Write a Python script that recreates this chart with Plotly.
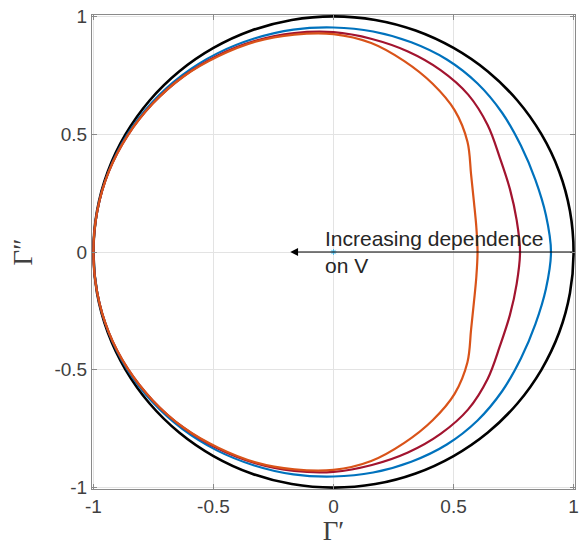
import plotly.graph_objects as go

# Unit circle, upper half (points read every 10 degrees)
circle_x = [1.0, 0.985, 0.940, 0.866, 0.766, 0.643, 0.5, 0.342, 0.174, 0.0,
            -0.174, -0.342, -0.5, -0.643, -0.766, -0.866, -0.940, -0.985, -1.0]
circle_y = [0.0, 0.174, 0.342, 0.5, 0.643, 0.766, 0.866, 0.940, 0.985, 1.0,
            0.985, 0.940, 0.866, 0.766, 0.643, 0.5, 0.342, 0.174, 0.0]

# Blue curve, upper half
blue_x = [0.906, 0.885, 0.841, 0.781, 0.703, 0.600, 0.472, 0.324, 0.165, 0.0,
          -0.167, -0.330, -0.486, -0.630, -0.756, -0.860, -0.937, -0.984, -1.0]
blue_y = [0.0, 0.156, 0.306, 0.451, 0.590, 0.715, 0.817, 0.890, 0.936, 0.953,
          0.944, 0.906, 0.842, 0.751, 0.635, 0.497, 0.341, 0.174, 0.0]

# Crimson curve, upper half
red_x = [0.777, 0.763, 0.735, 0.693, 0.642, 0.561, 0.446, 0.310, 0.160, 0.0,
         -0.164, -0.326, -0.482, -0.626, -0.752, -0.857, -0.936, -0.984, -1.0]
red_y = [0.0, 0.135, 0.267, 0.400, 0.539, 0.668, 0.772, 0.851, 0.904, 0.933,
         0.929, 0.896, 0.834, 0.745, 0.631, 0.495, 0.341, 0.174, 0.0]

# Orange curve, upper half
orange_x = [0.600, 0.595, 0.585, 0.573, 0.558, 0.505, 0.413, 0.295, 0.157, 0.0,
            -0.163, -0.325, -0.480, -0.625, -0.752, -0.857, -0.936, -0.984, -1.0]
orange_y = [0.0, 0.105, 0.213, 0.331, 0.468, 0.601, 0.714, 0.810, 0.887, 0.925,
            0.923, 0.893, 0.831, 0.745, 0.631, 0.495, 0.341, 0.174, 0.0]

tick_vals = [-1, -0.5, 0, 0.5, 1]
tick_text = ["-1", "-0.5", "0", "0.5", "1"]


def closed(xs, ys):
    # upper half followed by mirrored lower half
    fx = list(xs) + list(reversed(xs))[1:]
    fy = list(ys) + [-v for v in reversed(ys)][1:]
    return fx, fy


fig = go.Figure()
series = [
    (circle_x, circle_y, "black", 2.6),
    (blue_x, blue_y, "#0072BD", 2.2),
    (red_x, red_y, "#A2142F", 2.2),
    (orange_x, orange_y, "#D95319", 2.2),
]
for xs, ys, col, w in series:
    fx, fy = closed(xs, ys)
    fig.add_trace(go.Scatter(x=fx, y=fy, mode="lines",
                             line=dict(color=col, width=w, shape="spline", smoothing=1.0),
                             showlegend=False, hoverinfo="skip"))

fig.add_trace(go.Scatter(x=[0], y=[0], mode="markers",
                         marker=dict(color="#4DBEEE", size=5, symbol="asterisk-open",
                                     line=dict(color="#4DBEEE", width=1)),
                         showlegend=False))

fig.add_annotation(x=-0.18, y=0, ax=1.0, ay=0, xref="x", yref="y", axref="x", ayref="y",
                   showarrow=True, arrowhead=2, arrowsize=1.3, arrowwidth=1.2,
                   arrowcolor="black", text="")
fig.add_annotation(x=-0.045, y=0.0, xref="x", yref="y", showarrow=False,
                   text="Increasing dependence<br>on V", xanchor="left", yanchor="middle",
                   align="left", font=dict(family="Liberation Sans, Arial", size=21, color="#262626"))

axis_common = dict(range=[-1.006, 1.006], tickvals=tick_vals, ticktext=tick_text, automargin=False,
                   ticklabeloverflow="allow",
                   showgrid=True, gridcolor="#e3e3e3", gridwidth=1,
                   zeroline=False, showline=True, linecolor="#8a8a8a", linewidth=1,
                   mirror="ticks", ticks="inside", ticklen=5, tickcolor="#8a8a8a",
                   tickfont=dict(family="Liberation Sans, Arial", size=19, color="#404040"))

fig.update_xaxes(**axis_common,
                 title=dict(text="Γ′", standoff=14,
                            font=dict(family="Liberation Serif, Times New Roman", size=27, color="#404040")))
fig.update_yaxes(**axis_common,
                 title=dict(text="Γ″", standoff=14,
                            font=dict(family="Liberation Serif, Times New Roman", size=27, color="#404040")))

fig.update_layout(width=582, height=546, margin=dict(l=92, r=7, t=15, b=57),
                  plot_bgcolor="white", paper_bgcolor="white")

# remove the page's default body margin so the figure sits at the window's corner
fig.write_html("out.html",
               config={"displayModeBar": False},
               post_script="document.body.style.margin='0';"
                           "document.documentElement.style.overflow='hidden';")
